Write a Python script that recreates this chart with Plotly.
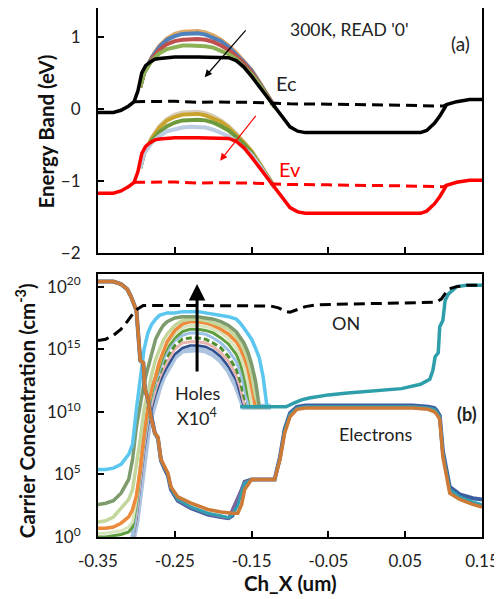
import plotly.graph_objects as go

# ---------------- (a) Energy band data ----------------
X_EC = [-0.35, -0.33, -0.32, -0.31, -0.303, -0.298, -0.293, -0.288, -0.282, -0.276, -0.27, -0.26, -0.25,
        -0.22, -0.19, -0.18, -0.17, -0.16, -0.15, -0.14, -0.13, -0.122, -0.11, -0.10, -0.09, -0.08, 0.0,
        0.07, 0.078, 0.088, 0.095, 0.104, 0.117, 0.134, 0.15]
EC_FINAL = [-0.05, -0.05, -0.02, 0.04, 0.1, 0.25, 0.5, 0.6, 0.65, 0.69, 0.70, 0.71, 0.72,
            0.72, 0.72, 0.71, 0.67, 0.58, 0.45, 0.31, 0.16, 0.06, -0.12, -0.25, -0.31, -0.33, -0.33,
            -0.33, -0.3, -0.2, -0.1, 0.06, 0.1, 0.13, 0.13]
EV_FINAL = [-1.17, -1.17, -1.14, -1.08, -1.02, -0.87, -0.62, -0.52, -0.47, -0.43, -0.42, -0.41, -0.40,
            -0.40, -0.40, -0.41, -0.45, -0.54, -0.67, -0.81, -0.96, -1.06, -1.24, -1.37, -1.43, -1.45, -1.45,
            -1.45, -1.42, -1.32, -1.22, -1.06, -1.02, -0.99, -0.99]

X_DASH = [-0.303, -0.28, -0.25, -0.22, -0.2, -0.15, -0.12, -0.1, -0.05, 0.0, 0.05, 0.09, 0.1, 0.104]
EC_DASH = [0.1, 0.105, 0.105, 0.09, 0.095, 0.09, 0.08, 0.07, 0.065, 0.06, 0.05, 0.04, 0.04, 0.06]
EV_DASH = [-1.02, -1.015, -1.015, -1.03, -1.025, -1.03, -1.04, -1.05, -1.055, -1.06, -1.07, -1.08, -1.08, -1.06]

X_C = [-0.295, -0.29, -0.28, -0.27, -0.26, -0.25, -0.24, -0.23, -0.22, -0.21, -0.20, -0.19, -0.18,
       -0.17, -0.16, -0.15, -0.14, -0.13, -0.12]
EC_TAN = [0.3, 0.5, 0.72, 0.88, 0.98, 1.04, 1.07, 1.08, 1.08, 1.06, 1.02, 0.96, 0.88, 0.78, 0.66, 0.54, 0.38, 0.2, 0.03]
EC_BLUE = [0.3, 0.5, 0.71, 0.86, 0.96, 1.01, 1.04, 1.05, 1.05, 1.03, 0.99, 0.94, 0.86, 0.76, 0.65, 0.53, 0.37, 0.2, 0.03]
EC_RED = [0.3, 0.5, 0.69, 0.82, 0.9, 0.94, 0.96, 0.97, 0.97, 0.96, 0.93, 0.88, 0.82, 0.73, 0.63, 0.51, 0.36, 0.19, 0.03]
EC_GREEN = [0.3, 0.5, 0.67, 0.77, 0.83, 0.86, 0.88, 0.88, 0.88, 0.87, 0.85, 0.81, 0.76, 0.69, 0.59, 0.48, 0.34, 0.18, 0.02]

EV_BEIGE = [-0.82, -0.62, -0.40, -0.24, -0.14, -0.08, -0.05, -0.04, -0.04, -0.06, -0.10, -0.16, -0.24, -0.34, -0.46, -0.58, -0.74, -0.92, -1.09]
EV_GOLD = [-0.82, -0.62, -0.41, -0.26, -0.16, -0.11, -0.08, -0.07, -0.07, -0.09, -0.13, -0.18, -0.26, -0.36, -0.47, -0.59, -0.75, -0.92, -1.09]
EV_GREEN = [-0.82, -0.62, -0.44, -0.32, -0.24, -0.19, -0.16, -0.15, -0.15, -0.16, -0.19, -0.24, -0.30, -0.39, -0.49, -0.61, -0.76, -0.93, -1.09]
EV_LBLUE = [-0.82, -0.62, -0.47, -0.38, -0.31, -0.28, -0.26, -0.25, -0.25, -0.26, -0.29, -0.33, -0.38, -0.45, -0.54, -0.64, -0.78, -0.94, -1.10]

# ---------------- (b) Carrier concentration data (log10 of cm^-3) ----------------
X_H = [-0.35, -0.34, -0.33, -0.32, -0.31, -0.305, -0.30, -0.295, -0.29, -0.285, -0.28, -0.275, -0.27, -0.265, -0.26,
       -0.25, -0.24, -0.23, -0.22, -0.21, -0.20, -0.19, -0.18, -0.17, -0.165, -0.16, -0.155, -0.15, -0.145, -0.14,
       -0.135, -0.13, -0.125]
H_CYAN = [5.4, 5.4, 5.5, 5.8, 6.6, 7.4, 10.2, 12.5, 15.0, 16.3, 17.0, 17.4, 17.7, 17.8, 17.9,
          17.9, 18.0, 18.0, 18.0, 17.9, 17.8, 17.7, 17.6, 17.4, 17.1, 16.7, 16.3, 15.8, 15.1, 14.3, 12.8, 10.4, 10.4]
H_OLIVE = [2.6, 2.7, 2.9, 3.5, 4.6, 6.2, 8.8, 10.4, 12.3, 13.5, 14.8, 15.8, 16.4, 16.9, 17.2,
           17.5, 17.6, 17.6, 17.6, 17.5, 17.4, 17.2, 16.9, 16.4, 16.0, 15.5, 14.8, 13.8, 12.5, 10.4, 10.4, 10.4, 10.4]
H_LGREEN = [1.2, 1.3, 1.6, 2.3, 3.0, 3.8, 5.6, 7.8, 10.2, 11.7, 13.0, 14.2, 15.0, 15.7, 16.2,
            16.9, 17.3, 17.4, 17.4, 17.3, 17.1, 16.9, 16.6, 16.0, 15.6, 15.0, 14.2, 13.0, 11.3, 10.4, 10.4, 10.4, 10.4]
H_ORANGE = [0.7, 0.7, 0.8, 1.1, 1.6, 2.2, 3.3, 5.4, 8.2, 10.4, 11.9, 12.8, 14.0, 14.9, 15.6,
            16.5, 17.0, 17.2, 17.2, 17.1, 16.9, 16.6, 16.2, 15.6, 15.1, 14.4, 13.5, 12.0, 10.4, 10.4, 10.4, 10.4, 10.4]
H_PALE = [0.3, 0.3, 0.4, 0.5, 0.8, 1.2, 3.0, 5.5, 8.3, 10.3, 11.8, 13.0, 14.0, 14.8, 15.4,
          16.2, 16.7, 16.9, 16.9, 16.8, 16.6, 16.3, 15.8, 15.1, 14.5, 13.6, 12.3, 10.6, 10.4, 10.4, 10.4, 10.4, 10.4]
H_GREEN = [0.0, 0.0, 0.1, 0.2, 0.4, 0.8, 2.7, 5.2, 8.0, 10.0, 11.5, 12.7, 13.7, 14.5, 15.1,
           15.9, 16.4, 16.6, 16.6, 16.5, 16.3, 15.9, 15.4, 14.6, 13.9, 12.9, 11.4, 10.4, 10.4, 10.4, 10.4, 10.4, 10.4]
H_LBLUE = [-1, -1, -1, -1, -0.5, 0.0, 2.3, 4.9, 7.6, 9.6, 11.2, 12.4, 13.4, 14.2, 14.8,
           15.7, 16.1, 16.3, 16.3, 16.2, 15.9, 15.5, 14.9, 14.0, 13.2, 12.1, 10.6, 10.4, 10.4, 10.4, 10.4, 10.4, 10.4]
H_GDASH = [-1, -1, -1, -1, -0.5, 0.0, 2.6, 5.6, 8.4, 10.2, 11.3, 12.2, 13.0, 13.8, 14.4,
           15.3, 15.8, 15.9, 15.9, 15.8, 15.5, 15.1, 14.4, 13.4, 12.5, 11.2, 10.4, 10.4, 10.4, 10.4, 10.4, 10.4, 10.4]
H_PINK = [-1, -1, -1, -1, -0.5, -0.2, 1.8, 4.6, 7.3, 9.3, 10.7, 11.8, 12.7, 13.4, 14.0,
          15.0, 15.5, 15.6, 15.6, 15.5, 15.2, 14.7, 14.0, 12.9, 12.0, 10.7, 10.4, 10.4, 10.4, 10.4, 10.4, 10.4, 10.4]
H_DBLUE = [-1, -1, -1, -1, -0.5, -0.3, 1.5, 4.2, 6.9, 8.9, 10.3, 11.4, 12.3, 13.0, 13.6,
           14.6, 15.1, 15.3, 15.3, 15.2, 14.9, 14.4, 13.6, 12.5, 11.5, 10.4, 10.4, 10.4, 10.4, 10.4, 10.4, 10.4, 10.4]
H_STEEL = [-1, -1, -1, -1, -0.5, -0.3, 1.2, 3.8, 6.5, 8.5, 9.9, 11.1, 12.0, 12.8, 13.4,
           14.4, 14.9, 15.0, 15.0, 14.9, 14.6, 14.1, 13.3, 12.1, 11.2, 10.4, 10.4, 10.4, 10.4, 10.4, 10.4, 10.4, 10.4]

X_T = [-0.165, -0.15, -0.13, -0.115, -0.105, -0.095, -0.085, -0.075, -0.065, -0.05, -0.025, 0.0, 0.025,
       0.045, 0.07, 0.082, 0.086, 0.089, 0.093, 0.095, 0.099, 0.102, 0.106, 0.117, 0.13, 0.15]
H_TAIL = [10.4, 10.4, 10.4, 10.4, 10.4, 10.7, 10.95, 11.1, 11.2, 11.35, 11.5, 11.6, 11.7,
          11.85, 12.2, 12.6, 13.3, 14.4, 14.7, 16.8, 17.3, 18.9, 19.4, 20.0, 20.1, 20.1]

X_E = [-0.35, -0.33, -0.32, -0.312, -0.307, -0.30, -0.298, -0.295, -0.291, -0.289, -0.285, -0.281, -0.276,
       -0.272, -0.268, -0.263, -0.259, -0.255, -0.246, -0.229, -0.207, -0.19, -0.18, -0.175, -0.168, -0.163,
       -0.159, -0.15, -0.14, -0.12, -0.113, -0.107, -0.10, -0.091, -0.08, 0.0, 0.06, 0.08, 0.088, 0.091,
       0.095, 0.099, 0.104, 0.108, 0.121, 0.138, 0.15]
E_ORANGE = [20.4, 20.4, 20.2, 19.8, 19.2, 18.1, 16.5, 14.1, 13.9, 11.8, 11.0, 9.6, 8.3,
            8.0, 6.2, 5.6, 5.1, 4.0, 3.2, 2.7, 2.2, 2.0, 1.9, 1.9, 1.9, 2.6,
            3.8, 4.6, 4.6, 4.6, 6.2, 8.3, 9.6, 10.2, 10.3, 10.3, 10.3, 10.2, 10.0, 9.8,
            9.4, 6.4, 4.8, 3.5, 3.0, 2.6, 2.4]
E_BLUE = [20.4, 20.4, 20.2, 19.8, 19.2, 18.1, 16.5, 14.1, 13.9, 11.8, 11.0, 9.6, 8.3,
          7.9, 6.1, 5.4, 4.9, 3.8, 2.9, 2.3, 1.8, 1.6, 1.5, 1.7, 2.9, 3.9,
          4.4, 4.6, 4.6, 4.6, 6.4, 8.6, 9.9, 10.4, 10.5, 10.5, 10.5, 10.4, 10.3, 10.1,
          9.7, 6.9, 5.3, 4.0, 3.4, 3.1, 3.0]
E_TEAL = [20.4, 20.4, 20.2, 19.8, 19.2, 18.1, 16.5, 14.1, 13.9, 11.8, 11.0, 9.6, 8.3,
          7.9, 6.1, 5.5, 5.0, 3.9, 3.0, 2.4, 1.9, 1.7, 1.55, 1.8, 2.5, 3.6,
          4.3, 4.6, 4.6, 4.6, 6.3, 8.5, 9.8, 10.3, 10.4, 10.4, 10.4, 10.3, 10.2, 10.0,
          9.6, 6.7, 5.1, 3.8, 3.2, 2.8, 2.6]
E_PURPLE = [20.4, 20.4, 20.2, 19.8, 19.2, 18.1, 16.5, 14.1, 13.9, 11.8, 11.0, 9.6, 8.3,
            7.9, 6.1, 5.5, 5.0, 3.9, 2.95, 2.35, 1.85, 1.6, 1.5, 2.2, 3.2, 3.9,
            4.4, 4.6, 4.6, 4.6, 6.3, 8.4, 9.7, 10.3, 10.4, 10.4, 10.4, 10.3, 10.1, 9.9,
            9.5, 6.6, 5.0, 3.7, 3.1, 2.7, 2.5]

X_ON = [-0.35, -0.34, -0.33, -0.32, -0.312, -0.305, -0.299, -0.291, -0.25, -0.2, -0.15, -0.125, -0.115, -0.105,
        -0.1, -0.09, -0.08, -0.065, -0.03, 0.0, 0.05, 0.09, 0.097, 0.102, 0.106, 0.117, 0.13, 0.15]
ON_DASH = [15.7, 15.8, 16.1, 16.6, 17.2, 17.8, 18.2, 18.5, 18.5, 18.5, 18.5, 18.45, 18.3, 18.0,
           17.95, 18.2, 18.4, 18.55, 18.6, 18.65, 18.7, 18.75, 19.0, 19.5, 19.8, 20.0, 20.1, 20.1]

X_TICKS = [-0.35, -0.25, -0.15, -0.05, 0.05, 0.15]
X_TICKTEXT = ["-0.35", "-0.25", "-0.15", "-0.05", "0.05", "0.15"]
E_TICKS = [-2, -1, 0, 1]
C_TICKS = [1, 1e5, 1e10, 1e15, 1e20]
C_TICKTEXT = ["10<sup>0</sup>", "10<sup>5</sup>", "10<sup>10</sup>", "10<sup>15</sup>", "10<sup>20</sup>"]

FONT = "Lato, Carlito, 'Open Sans', sans-serif"

fig = go.Figure()


def add_line(x, y, color, width, axis, dash=None, opacity=1.0):
    xa, ya = ("x", "y") if axis == 1 else ("x2", "y2")
    fig.add_trace(go.Scatter(x=x, y=y, mode="lines", xaxis=xa, yaxis=ya, opacity=opacity,
                             line=dict(color=color, width=width, dash=dash), showlegend=False,
                             hoverinfo="skip"))


def pw(vals):
    return [10 ** v for v in vals]


# (a)
add_line(X_C, EC_TAN, "#DDA766", 4, 1)
add_line(X_C, EC_BLUE, "#4F81BD", 4, 1)
add_line(X_C, EC_RED, "#C0504D", 4, 1)
add_line(X_C, EC_GREEN, "#8DB255", 4, 1)
add_line(X_C, EV_BEIGE, "#D8CDBA", 4, 1)
add_line(X_C, EV_GOLD, "#C9A32C", 4, 1)
add_line(X_C, EV_GREEN, "#6E9A3E", 4, 1)
add_line(X_C, EV_LBLUE, "#BCCDE3", 4, 1)
add_line(X_EC, EC_FINAL, "#000000", 3.5, 1)
add_line(X_EC, EV_FINAL, "#FF0000", 3.5, 1)
add_line(X_DASH, EC_DASH, "#000000", 3, 1, dash="11px,6px")
add_line(X_DASH, EV_DASH, "#FF0000", 3, 1, dash="11px,6px")

# (b) holes
add_line(X_H, pw(H_STEEL), "#9DB9DA", 6, 2, opacity=0.85)
add_line(X_H, pw(H_DBLUE), "#2F4F8F", 2.5, 2)
add_line(X_H, pw(H_PINK), "#E8B4B0", 3, 2)
add_line(X_H, pw(H_GDASH), "#4E8F2E", 3, 2, dash="6px,3px")
add_line(X_H, pw(H_LBLUE), "#9CC3E5", 3, 2)
add_line(X_H, pw(H_GREEN), "#5F9E3F", 3, 2)
add_line(X_H, pw(H_PALE), "#D8E4BC", 3, 2)
add_line(X_H, pw(H_ORANGE), "#EE8A3C", 3.5, 2)
add_line(X_H, pw(H_LGREEN), "#C3D69B", 3.5, 2)
add_line(X_H, pw(H_OLIVE), "#7E9B6E", 3.5, 2)
add_line(X_H, pw(H_CYAN), "#5BC6EE", 3.5, 2)
add_line(X_T, pw(H_TAIL), "#2E9FAA", 3.5, 2)
# electrons
add_line(X_E, pw(E_BLUE), "#3A5FA0", 4, 2)
add_line(X_E, pw(E_PURPLE), "#7E649E", 3, 2)
add_line(X_E, pw(E_TEAL), "#31A0B0", 3, 2)
add_line(X_E, pw(E_ORANGE), "#CD7A36", 3.5, 2)
# ON dashed
add_line(X_ON, pw(ON_DASH), "#000000", 3, 2, dash="11px,6px")

axis_common = dict(showline=True, linecolor="black", linewidth=2, mirror=True, ticks="inside",
                   ticklen=6, tickwidth=1.5, tickcolor="black", showgrid=False, zeroline=False,
                   automargin=False, tickfont=dict(family=FONT, size=17, color="#222"))

fig.update_layout(
    width=494, height=591, plot_bgcolor="white", paper_bgcolor="white",
    margin=dict(l=90, r=20, t=0, b=62, autoexpand=False),
    xaxis=dict(domain=[0, 1], range=[-0.35, 0.15], tickvals=X_TICKS, showticklabels=False,
               anchor="y", **axis_common),
    yaxis=dict(domain=[0.537, 1.0], range=[-2, 1.4], tickvals=E_TICKS, anchor="x",
               ticklabelstandoff=12, **axis_common),
    xaxis2=dict(domain=[0, 1], range=[-0.35, 0.15], tickvals=X_TICKS, ticktext=X_TICKTEXT,
                anchor="y2", ticklabelstandoff=8, **axis_common),
    yaxis2=dict(domain=[0, 0.497], type="log", range=[0, 21], tickvals=C_TICKS, ticktext=C_TICKTEXT,
                anchor="x2", ticklabelstandoff=12, **axis_common),
    font=dict(family=FONT, color="#222"),
)

ann = []


def text_ann(text, x, y, xref, yref, size, color="#222", angle=0):
    ann.append(dict(text=text, xref=xref, yref=yref, x=x, y=y, textangle=angle, showarrow=False,
                    xanchor="center", yanchor="middle", font=dict(size=size, family=FONT, color=color)))


# axis titles
text_ann("<b>Energy Band (eV)</b>", -0.136, 0.766, "paper", "paper", 20.5, "#111", -90)
text_ann("<b>Carrier Concentration (cm<sup>-3</sup>)</b>", -0.19, 0.238, "paper", "paper", 20.5, "#111", -90)
text_ann("<b>Ch_X (um)</b>", 0.5, -0.087, "paper", "paper", 20.5, "#111")
# panel (a) texts
text_ann("300K, READ '0'", -0.022, 1.1, "x", "y", 17.5)
text_ann("(a)", 0.122, 0.91, "x", "y", 19)
text_ann("Ec", -0.104, 0.36, "x", "y", 20)
text_ann("Ev", -0.100, -0.83, "x", "y", 20, "#FF0000")
# arrows (a)
ann.append(dict(x=-0.211, y=0.44, ax=-0.156, ay=1.11, xref="x", yref="y", axref="x", ayref="y",
                showarrow=True, arrowhead=2, arrowsize=1.2, arrowwidth=1.2, arrowcolor="#000", text=""))
ann.append(dict(x=-0.191, y=-0.72, ax=-0.143, ay=-0.075, xref="x", yref="y", axref="x", ayref="y",
                showarrow=True, arrowhead=2, arrowsize=1.2, arrowwidth=1.2, arrowcolor="#FF0000", text=""))
# panel (b) texts (log axis: positions in log10 units)
text_ann("Holes", -0.221, 11.5, "x2", "y2", 18)
text_ann("X10<sup>4</sup>", -0.221, 9.6, "x2", "y2", 18)
text_ann("ON", -0.027, 17.1, "x2", "y2", 18)
text_ann("Electrons", 0.012, 8.2, "x2", "y2", 18)
text_ann("<b>(b)</b>", 0.13, 9.8, "x2", "y2", 18)
ann.append(dict(x=-0.221, y=20.2, ax=-0.221, ay=13.1, xref="x2", yref="y2", axref="x2", ayref="y2",
                showarrow=True, arrowhead=2, arrowsize=1.1, arrowwidth=3, arrowcolor="#000", text=""))
fig.update_layout(annotations=ann)

fig.write_html("out.html")
